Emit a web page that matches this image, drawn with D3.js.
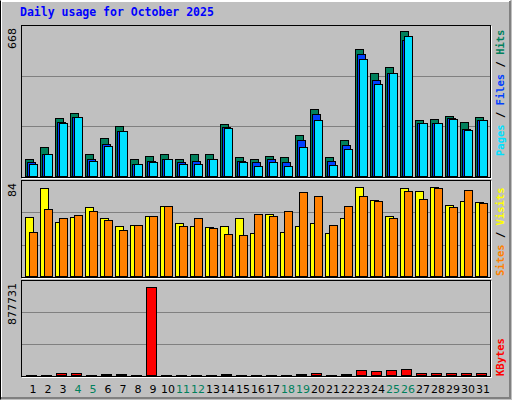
<!DOCTYPE html>
<html>
<head>
<meta charset="utf-8">
<script src="https://cdn.jsdelivr.net/npm/d3@7"></script>
<style>
body { margin: 0; background: #c0c0c0; }
svg { display: block; }
</style>
</head>
<body>
<svg width="512" height="400"></svg>
<script>
var width = 512, height = 400;

// Data
var days   = d3.range(1, 32);
var weekend = [4, 5, 11, 12, 18, 19, 25, 26];
var hits   = [82,135,262,284,104,174,227,78,95,104,82,102,104,236,91,78,95,87,188,302,91,166,570,464,491,649,253,258,271,244,267];
var files  = [65,104,246,267,78,148,205,56,73,78,65,73,82,223,73,65,82,69,166,280,73,144,548,434,464,609,240,240,262,214,253];
var pages  = [60,104,240,267,73,139,205,56,65,78,60,56,78,218,69,51,69,51,135,253,54,126,526,416,464,627,240,240,258,209,253];
var sites  = [53,79,49,53,62,52,45,46,54,63,48,45,44,45,52,39,56,40,45,48,39,52,80,68,54,79,76,80,64,67,66];
var visits = [40,60,52,55,58,50,42,46,54,63,45,52,43,38,37,56,54,58,75,72,46,63,72,67,52,76,69,79,62,77,65];
var kbytes = [10000,10000,30000,30000,10000,20000,20000,10000,835000,10000,10000,10000,10000,20000,10000,10000,10000,10000,20000,30000,10000,20000,58000,50000,58000,67000,30000,30000,30000,30000,30000];

var svg = d3.select('svg');
var mono = "'DejaVu Sans Mono', monospace";
var sans = "'DejaVu Sans', sans-serif";

// frame
svg.append('rect').attr('width', width).attr('height', height).attr('fill', '#c0c0c0');
svg.append('path').attr('d', 'M1,398V1H510').attr('stroke', '#ffffff').attr('stroke-width', 2).attr('fill', 'none');
svg.append('path').attr('d', 'M1,398H510V1').attr('stroke', '#808080').attr('stroke-width', 2).attr('fill', 'none');
svg.append('path').attr('d', 'M0.5,399.5V0.5').attr('stroke', '#000').attr('fill', 'none');

svg.append('text').attr('x', 20).attr('y', 16)
  .attr('font-family', mono).attr('font-weight', 'bold').attr('font-size', 11.5)
  .attr('fill', '#0000ff').text('Daily usage for October 2025');

var x = d3.scaleLinear().domain([1, 31]).range([25, 475]);
var left = 21, right = 490;

function panel(top, bottom, max, series, labels) {
  svg.append('rect').attr('x', left + 1.5).attr('y', top + 1.5)
    .attr('width', right - left).attr('height', bottom - top)
    .attr('fill', 'none').attr('stroke', '#fff');
  svg.append('rect').attr('x', left + 0.5).attr('y', top + 0.5)
    .attr('width', right - left).attr('height', bottom - top)
    .attr('fill', '#c0c0c0').attr('stroke', '#000');
  var y = d3.scaleLinear().domain([0, max]).range([bottom, top + 2]);
  [1 / 3, 2 / 3].forEach(function (f) {
    var gy = Math.round(bottom - (bottom - top) * f) + 0.5;
    svg.append('line').attr('x1', left + 1).attr('x2', right).attr('y1', gy).attr('y2', gy)
      .attr('stroke', '#808080');
  });
  series.forEach(function (s) {
    svg.append('g').selectAll('rect').data(s.values).enter().append('rect')
      .attr('x', function (d, i) { return x(days[i]) + s.off + 0.5; })
      .attr('y', function (d) { return Math.round(y(d)) + 0.5; })
      .attr('width', s.w)
      .attr('height', function (d) { return Math.max(1, bottom - 1 - Math.round(y(d))); })
      .attr('fill', s.color).attr('stroke', '#000');
  });
  svg.append('text')
    .attr('transform', 'translate(' + 16 + ',' + (top + 3) + ') rotate(-90)')
    .attr('text-anchor', 'end').attr('font-family', sans).attr('font-size', 11)
    .text(max);
  var t = svg.append('text')
    .attr('transform', 'translate(' + 504 + ',' + labels.y + ') rotate(-90)')
    .attr('text-anchor', labels.anchor).attr('font-family', mono)
    .attr('font-weight', 'bold').attr('font-size', 10.5);
  labels.parts.forEach(function (p, i) {
    if (i > 0) t.append('tspan').attr('fill', '#000').text(' / ');
    t.append('tspan').attr('fill', p[1]).text(p[0]);
  });
}

panel(25, 177, 668, [
  { values: hits, off: 0, w: 8, color: '#00805c' },
  { values: files, off: 2, w: 8, color: '#0040ff' },
  { values: pages, off: 4, w: 8, color: '#00e0ff' }
], { y: 156, anchor: 'start', parts: [['Pages', '#00e0ff'], ['Files', '#0040ff'], ['Hits', '#00805c']] });

panel(180, 277, 84, [
  { values: sites, off: 0, w: 8, color: '#ffff00' },
  { values: visits, off: 4, w: 8, color: '#ff8000' }
], { y: 276, anchor: 'start', parts: [['Sites', '#ff8000'], ['Visits', '#ffff00']] });

panel(280, 376, 877731, [
  { values: kbytes, off: 1, w: 10, color: '#ff0000' }
], { y: 376, anchor: 'start', parts: [['KBytes', '#ff0000']] });

svg.append('g').selectAll('text').data(days).enter().append('text')
  .attr('x', function (d) { return x(d) + 8; })
  .attr('y', 393)
  .attr('text-anchor', 'middle').attr('font-family', sans).attr('font-size', 11)
  .attr('fill', function (d) { return weekend.indexOf(d) >= 0 ? '#00805c' : '#000'; })
  .text(function (d) { return d; });
</script>
</body>
</html>
